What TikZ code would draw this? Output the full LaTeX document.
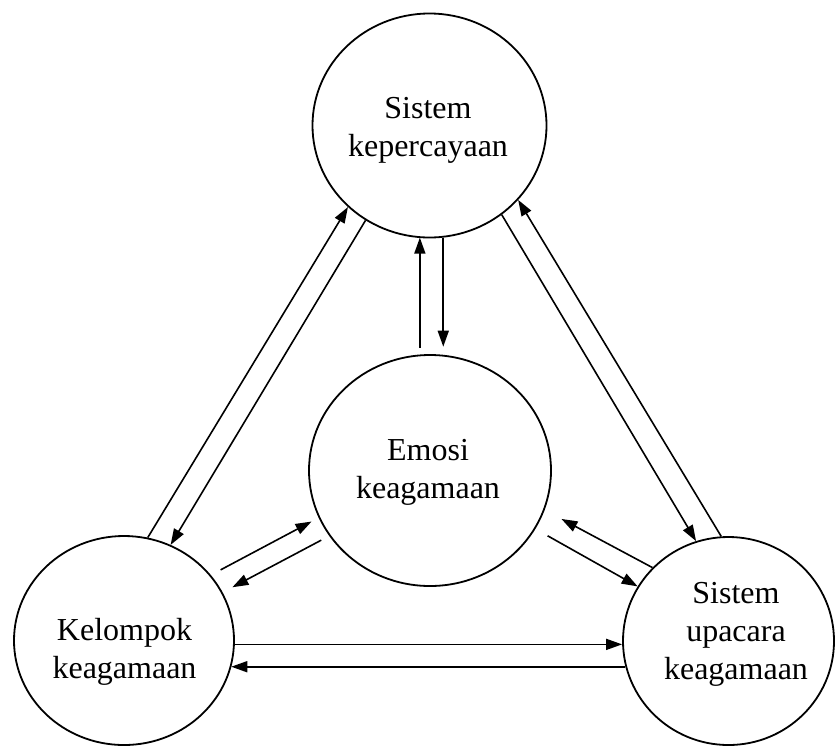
\documentclass[tikz,border=0pt]{standalone}
\usepackage{fontspec}
\setmainfont{Liberation Serif}
\usetikzlibrary{arrows.meta,shapes.geometric}
\begin{document}
\begin{tikzpicture}[x=1pt,y=-1pt,
  bubble/.style={draw, line width=1.8pt, ellipse, inner sep=0pt},
  lbl/.style={font=\fontsize{32}{38}\selectfont, align=center, inner sep=0pt},
  conn/.style={line width=1.6pt, -{Triangle[length=16pt,width=11pt]}}]
\useasboundingbox (0,0) rectangle (837,748);
% circles
\node[bubble, minimum width=234pt, minimum height=224pt] (T) at (429.5,125.5) {};
\node[bubble, minimum width=242pt, minimum height=231pt] (M) at (430,470.5) {};
\node[bubble, minimum width=220pt, minimum height=209pt] (L) at (124,640.5) {};
\node[bubble, minimum width=211pt, minimum height=208pt] (R) at (728.5,641) {};
% texts
\node[lbl] (Tt) at (428,130.5) {Sistem\\kepercayaan};
\node[lbl] (Mt) at (428,472.5) {Emosi\\keagamaan};
\node[lbl] (Lt) at (124.5,651.5) {Kelompok\\keagamaan};
\node[lbl] (Rt) at (736,634) {Sistem\\upacara\\keagamaan};
% top <-> left
\draw[conn] (L.77.4) -- (T.225);
\draw[conn] (T.236.2) -- (L.64);
% top <-> middle
\draw[conn, shorten <=7pt] (M.95.6) -- (M.95.6 |- T.263.8);
\draw[conn, shorten >=8pt] (T.277.9) -- (T.277.9 |- M.84);
% top <-> right
\draw[conn] (T.309.4) -- (R.108.5);
\draw[conn] (R.94.5) -- (T.320.3);
% middle <-> left
\draw[conn, shorten <=11pt, shorten >=8pt] (L.37.1) -- (M.203.8);
\draw[conn, shorten <=9pt, shorten >=11pt] (M.213.7) -- (L.26.4);
% middle <-> right
\draw[conn, shorten >=19pt] (R.136) -- (M.341.4);
\draw[conn, shorten <=14pt] (M.331.1) -- (R.149.4);
% left <-> right
\draw[conn] (L.-2.8) -- (L.-2.8 -| R.west);
\draw[conn] (R.194.4) -- (R.194.4 -| L.-14.3);
\end{tikzpicture}
\end{document}
